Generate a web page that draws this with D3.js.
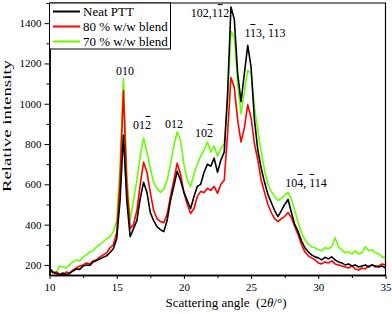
<!DOCTYPE html>
<html>
<head>
<meta charset="utf-8">
<script src="https://cdn.jsdelivr.net/npm/d3@7/dist/d3.min.js"></script>
<style>
  body { margin: 0; background: #fff; }
  text { font-family: "Liberation Serif", "Times New Roman", serif; fill: #000; }
</style>
</head>
<body>
<div id="chart"></div>
<script>
const angles = [10, 10.25, 10.5, 10.75, 11, 11.25, 11.5, 11.75, 12, 12.25, 12.5, 12.75, 13, 13.25, 13.5, 13.75,
  14, 14.25, 14.5, 14.75, 15, 15.25, 15.5, 15.75, 16, 16.25, 16.5, 16.75, 17, 17.25, 17.5, 17.75,
  18, 18.25, 18.5, 18.75, 19, 19.25, 19.5, 19.75, 20, 20.25, 20.5, 20.75, 21, 21.25, 21.5, 21.75,
  22, 22.25, 22.5, 22.75, 23, 23.25, 23.5, 23.75, 24, 24.25, 24.5, 24.75, 25, 25.25, 25.5, 25.75,
  26, 26.25, 26.5, 26.75, 27, 27.25, 27.5, 27.75, 28, 28.25, 28.5, 28.75, 29, 29.25, 29.5, 29.75,
  30, 30.25, 30.5, 30.75, 31, 31.25, 31.5, 31.75, 32, 32.25, 32.5, 32.75, 33, 33.25, 33.5, 33.75,
  34, 34.25, 34.5, 34.75, 35];

const neatPTT = [185, 165, 158, 150, 160, 152, 158, 170, 180, 178, 195, 200, 198, 215, 222, 230,
  238, 245, 262, 280, 330, 520, 845, 520, 340, 380, 420, 530, 610, 560, 460, 420,
  390, 375, 365, 420, 520, 590, 665, 620, 560, 520, 480, 540, 590, 600, 660, 700,
  690, 730, 660, 720, 760, 1050, 1480, 1420, 1150, 1010, 1150, 1290, 1180, 920, 770, 680,
  610, 550, 510, 470, 440, 470, 500, 525, 460, 400, 365, 320, 285, 265, 250, 240,
  235, 225, 238, 230, 240, 225, 215, 210, 200, 205, 195, 200, 190, 195, 200, 190,
  200, 195, 190, 195, 185];

const blend80 = [175, 160, 165, 155, 150, 165, 160, 175, 185, 195, 200, 210, 205, 220, 225, 240,
  250, 260, 285, 300, 360, 620, 1065, 600, 380, 400, 470, 600, 710, 660, 560, 470,
  430, 415, 410, 450, 540, 620, 705, 650, 560, 500, 455, 480, 540, 565, 560, 580,
  570, 590, 555, 600, 620, 850, 1130, 1080, 920, 810, 880, 995, 930, 800, 720, 620,
  560, 500, 460, 430, 415, 430, 440, 460, 435, 390, 350, 300, 265, 245, 235, 225,
  210, 205, 215, 210, 220, 205, 200, 195, 190, 185, 195, 180, 175, 185, 180, 195,
  200, 190, 195, 205, 200];

const blend70 = [170, 165, 160, 195, 190, 185, 200, 215, 225, 220, 240, 250, 265, 270, 290, 300,
  315, 330, 340, 365, 420, 700, 1125, 650, 425, 520, 620, 740, 830, 760, 680, 610,
  580, 560, 575, 620, 700, 790, 860, 820, 700, 620, 590, 650, 700, 740, 770, 810,
  760, 790, 740, 780, 800, 1000, 1360, 1330, 1100, 950, 1060, 1165, 1150, 980, 870, 760,
  670, 600, 565, 540, 520, 530, 545, 560, 525, 470, 410, 360, 325, 305, 290, 285,
  275, 270, 285, 280, 290, 335, 290, 275, 260, 265, 255, 270, 255, 260, 290, 270,
  275, 260, 255, 240, 235];

const seriesNames = ['Neat PTT', '80 % w/w blend', '70 % w/w blend'];
const seriesColors = ['#000000', '#ff0000', '#66ff00'];
const xTicks = [10, 15, 20, 25, 30, 35];
const yTicks = [200, 400, 600, 800, 1000, 1200, 1400];

// peak labels: text pieces, barred pieces get an overline
const peakLabels = [
  { x: 15.62, y: 1143, parts: [['010', false]] },
  { x: 16.88, y: 875, parts: [['01', false], ['2', true]] },
  { x: 19.26, y: 880, parts: [['012', false]] },
  { x: 21.5, y: 835, parts: [['10', false], ['2', true]] },
  { x: 21.94, y: 1430, parts: [['102,1', false], ['1', true], ['2', false]] },
  { x: 26.03, y: 1331, parts: [['1', false], ['1', true], ['3, ', false], ['1', true], ['13', false]] },
  { x: 29.08, y: 587, parts: [['10', false], ['4', true], [', ', false], ['1', true], ['14', false]] }
];

const width = 392, height = 314;
const margin = { top: 3, right: 6.5, bottom: 39, left: 49.5 };
const serif = '"Liberation Serif", "Times New Roman", serif';

const svg = d3.select('#chart').append('svg')
  .attr('width', width)
  .attr('height', height);

const x = d3.scaleLinear().domain([10, 35]).range([margin.left, width - margin.right]);
const y = d3.scaleLinear().domain([150, 1500]).range([height - margin.bottom, margin.top]);

svg.append('clipPath').attr('id', 'plot-clip')
  .append('rect')
  .attr('x', x(10)).attr('y', y(1500))
  .attr('width', x(35) - x(10)).attr('height', y(150) - y(1500));

// lines, green first so black ends on top
const series = [neatPTT, blend80, blend70];
const line = d3.line().x((d, i) => x(angles[i])).y(d => y(d));
const gLines = svg.append('g').attr('clip-path', 'url(#plot-clip)');
[2, 1, 0].forEach(k => {
  gLines.append('path')
    .datum(series[k])
    .attr('fill', 'none')
    .attr('stroke', seriesColors[k])
    .attr('stroke-width', 1.6)
    .attr('stroke-linejoin', 'round')
    .attr('d', line);
});

// axes
const xAxis = d3.axisBottom(x).tickValues(xTicks).tickFormat(d3.format('d'))
  .tickSize(4).tickSizeOuter(0).tickPadding(4);
const xMinor = d3.axisBottom(x).tickValues([12.5, 17.5, 22.5, 27.5, 32.5]).tickSize(3).tickSizeOuter(0).tickFormat('');
const yAxis = d3.axisLeft(y).tickValues(yTicks).tickFormat(d3.format('d'))
  .tickSize(5).tickSizeOuter(0).tickPadding(3);
const yMinor = d3.axisLeft(y).tickValues([300, 500, 700, 900, 1100, 1300, 1500]).tickSize(3).tickSizeOuter(0).tickFormat('');

svg.append('g').attr('transform', `translate(0,${y(150)})`).call(xMinor);
svg.append('g').attr('transform', `translate(0,${y(150)})`).call(xAxis)
  .attr('font-family', serif).attr('font-size', 11);
svg.append('g').attr('transform', `translate(${x(10)},0)`).call(yMinor);
svg.append('g').attr('transform', `translate(${x(10)},0)`).call(yAxis)
  .attr('font-family', serif).attr('font-size', 11);

svg.selectAll('.domain').attr('stroke', '#000').attr('stroke-width', 1.5);
svg.selectAll('.tick line').attr('stroke', '#000').attr('stroke-width', 1);

// frame top and right
svg.append('path')
  .attr('d', `M${x(10)},${y(1500)}H${x(35)}V${y(150)}`)
  .attr('fill', 'none')
  .attr('stroke', '#000')
  .attr('stroke-width', 1.2);

// axis titles
const xTitle = svg.append('text')
  .attr('x', 226).attr('y', 307)
  .attr('text-anchor', 'middle')
  .style('font-size', '13px')
  .style('white-space', 'pre');
xTitle.append('tspan').text('Scattering angle  (2');
xTitle.append('tspan').style('font-style', 'italic').text('θ');
xTitle.append('tspan').text('/°)');

svg.append('text')
  .attr('transform', 'translate(11,126) rotate(-90)')
  .attr('text-anchor', 'middle')
  .attr('textLength', 132)
  .attr('lengthAdjust', 'spacingAndGlyphs')
  .style('font-size', '13.5px')
  .text('Relative intensity');

// peak labels with overlines
peakLabels.forEach(lb => {
  const t = svg.append('text')
    .attr('x', x(lb.x)).attr('y', y(lb.y))
    .attr('text-anchor', 'middle')
    .style('font-size', '12px')
    .style('white-space', 'pre');
  lb.parts.forEach(p => t.append('tspan').text(p[0]));
  const node = t.node();
  let idx = 0;
  lb.parts.forEach(p => {
    if (p[1]) {
      for (let c = 0; c < p[0].length; c++) {
        const s = node.getStartPositionOfChar(idx + c);
        const e = node.getEndPositionOfChar(idx + c);
        svg.append('line')
          .attr('x1', s.x + 0.5).attr('x2', e.x - 0.5)
          .attr('y1', s.y - 12.5).attr('y2', s.y - 12.5)
          .attr('stroke', '#000').attr('stroke-width', 1);
      }
    }
    idx += p[0].length;
  });
});

// legend
const legend = svg.append('g');
legend.append('rect')
  .attr('x', x(10)).attr('y', y(1500))
  .attr('width', 121).attr('height', 46)
  .attr('fill', '#fff')
  .attr('stroke', '#000')
  .attr('stroke-width', 1);
seriesNames.forEach((name, i) => {
  const cy = 11.5 + i * 15;
  legend.append('line')
    .attr('x1', 53).attr('x2', 80)
    .attr('y1', cy).attr('y2', cy)
    .attr('stroke', seriesColors[i])
    .attr('stroke-width', 2);
  legend.append('text')
    .attr('x', 83).attr('y', cy + 4.5)
    .style('font-size', '13px')
    .text(name);
});
</script>
</body>
</html>
